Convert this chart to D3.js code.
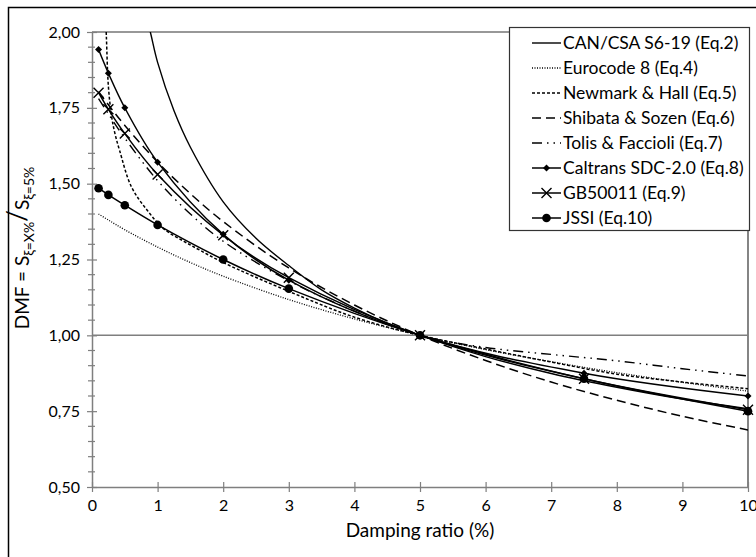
<!DOCTYPE html>
<html>
<head>
<meta charset="utf-8">
<script src="https://cdn.jsdelivr.net/npm/d3@7"></script>
<style>
  body { margin: 0; background: #fff; }
  svg { font-family: Lato, "Open Sans", sans-serif; }
</style>
</head>
<body>
<div id="chart"></div>
<script>
// tick values / labels
const xTicks = [0, 1, 2, 3, 4, 5, 6, 7, 8, 9, 10];
const yTicks = [0.5, 0.75, 1.0, 1.25, 1.5, 1.75, 2.0];
const yTickLabels = ["0,50", "0,75", "1,00", "1,25", "1,50", "1,75", "2,00"];

// CAN/CSA S6-19 (Eq.2)
const canXi = [0.8, 0.9, 1, 1.25, 1.5, 2, 2.5, 3, 3.5, 4, 4.5, 5, 6, 7, 8, 9, 10];
const canDmf = [2.08, 1.99, 1.90, 1.74, 1.62, 1.44, 1.32, 1.23, 1.15, 1.09, 1.04, 1.00, 0.93, 0.874, 0.829, 0.79, 0.758];

// Eurocode 8 (Eq.4)
const ec8Xi = [0.1, 0.25, 0.5, 1, 1.5, 2, 3, 4, 5, 6, 7, 8, 9, 10];
const ec8Dmf = [1.40, 1.38, 1.348, 1.291, 1.24, 1.195, 1.118, 1.054, 1.0, 0.953, 0.913, 0.877, 0.845, 0.816];

// Newmark & Hall (Eq.5)
const nhXi = [0.2, 0.22, 0.25, 0.3, 0.35, 0.42, 0.6, 0.85, 1.1, 1.4, 1.65, 2, 3, 4, 5, 6, 7, 8, 9, 10];
const nhDmf = [2.10, 1.98, 1.82, 1.72, 1.665, 1.61, 1.49, 1.41, 1.35, 1.31, 1.28, 1.24, 1.145, 1.06, 1.0, 0.955, 0.912, 0.872, 0.846, 0.824];

// Shibata & Sozen (Eq.6)
const ssXi = [0.1, 0.25, 0.5, 1, 1.5, 2, 3, 4, 5, 6, 7, 8, 9, 10];
const ssDmf = [1.803, 1.76, 1.692, 1.571, 1.467, 1.375, 1.222, 1.10, 1.0, 0.917, 0.846, 0.786, 0.733, 0.688];

// Tolis & Faccioli (Eq.7)
const tfXi = [0.1, 0.25, 0.5, 1, 1.5, 2, 3, 4, 5, 6, 7, 8, 9, 10];
const tfDmf = [1.78, 1.73, 1.65, 1.51, 1.40, 1.31, 1.18, 1.08, 1.0, 0.96, 0.937, 0.916, 0.89, 0.866];

// marker series share the same damping ratios
const markXi = [0.1, 0.25, 0.5, 1, 2, 3, 5, 7.5, 10];
const caltransDmf = [1.942, 1.864, 1.75, 1.571, 1.333, 1.182, 1.0, 0.875, 0.80];
const gbDmf = [1.80, 1.745, 1.665, 1.53, 1.33, 1.19, 1.0, 0.857, 0.755];
const jssiDmf = [1.485, 1.463, 1.429, 1.364, 1.25, 1.154, 1.0, 0.857, 0.75];

const series = [
    { name: "CAN/CSA S6-19 (Eq.2)", xs: canXi, ys: canDmf, dash: null, width: 1.4 },
    { name: "Eurocode 8 (Eq.4)", xs: ec8Xi, ys: ec8Dmf, dash: "1,1.5", width: 1.3 },
    { name: "Newmark & Hall (Eq.5)", xs: nhXi, ys: nhDmf, dash: "3,2", width: 1.5 },
    { name: "Shibata & Sozen (Eq.6)", xs: ssXi, ys: ssDmf, dash: "9,5", width: 1.5 },
    { name: "Tolis & Faccioli (Eq.7)", xs: tfXi, ys: tfDmf, dash: "10,5,1.5,5,1.5,5", width: 1.4 },
    { name: "Caltrans SDC-2.0 (Eq.8)", xs: markXi, ys: caltransDmf, dash: null, width: 1.5, marker: "diamond" },
    { name: "GB50011 (Eq.9)", xs: markXi, ys: gbDmf, dash: null, width: 1.5, marker: "cross" },
    { name: "JSSI (Eq.10)", xs: markXi, ys: jssiDmf, dash: null, width: 1.5, marker: "circle" }
];

const W = 756, H = 557;
const plotLeft = 92, plotRight = 748, plotTop = 32, plotBottom = 487;

const svg = d3.select("#chart").append("svg")
    .attr("width", W)
    .attr("height", H);

// outer frame
svg.append("rect")
    .attr("x", 8.5).attr("y", 7.5)
    .attr("width", 780).attr("height", 580)
    .attr("fill", "none")
    .attr("stroke", "#000")
    .attr("stroke-width", 1.5);

const x = d3.scaleLinear().domain([0, 10]).range([plotLeft, plotRight]);
const y = d3.scaleLinear().domain([0.5, 2.0]).range([plotBottom, plotTop]);

svg.append("defs").append("clipPath")
    .attr("id", "plotclip")
    .append("rect")
    .attr("x", plotLeft).attr("y", plotTop)
    .attr("width", plotRight - plotLeft).attr("height", plotBottom - plotTop);

// plot border top / right
svg.append("line")
    .attr("x1", plotLeft).attr("x2", plotRight).attr("y1", plotTop).attr("y2", plotTop)
    .attr("stroke", "#333").attr("stroke-width", 1.2);
svg.append("line")
    .attr("x1", plotRight).attr("x2", plotRight).attr("y1", plotTop).attr("y2", plotBottom)
    .attr("stroke", "#333").attr("stroke-width", 1.2);

// reference line at 1,00
svg.append("line")
    .attr("x1", plotLeft).attr("x2", plotRight).attr("y1", y(1)).attr("y2", y(1))
    .attr("stroke", "#7f7f7f").attr("stroke-width", 1.5);

// x axis
const xAxis = svg.append("g")
    .attr("transform", `translate(0,${plotBottom})`)
    .call(d3.axisBottom(x).tickValues(xTicks).tickSize(0).tickPadding(13).tickFormat(d3.format("d")));
xAxis.select(".domain").attr("stroke", "#7f7f7f").attr("stroke-width", 1.5);
xAxis.selectAll(".tick line").remove();
xAxis.selectAll(".tick").append("line")
    .attr("y1", -5).attr("y2", 5)
    .attr("stroke", "#7f7f7f").attr("stroke-width", 1.2);
xAxis.selectAll("text")
    .attr("fill", "#000")
    .style("font-size", "16px")
    .style("font-family", "Lato");

// y axis
const yAxis = svg.append("g")
    .attr("transform", `translate(${plotLeft},0)`)
    .call(d3.axisLeft(y).tickValues(yTicks).tickSize(0).tickPadding(12).tickFormat((d, i) => yTickLabels[i]));
yAxis.select(".domain").attr("stroke", "#7f7f7f").attr("stroke-width", 1.5);
yAxis.selectAll(".tick").append("line")
    .attr("x1", -5).attr("x2", 5)
    .attr("stroke", "#7f7f7f").attr("stroke-width", 1.2);
yAxis.selectAll("text")
    .attr("fill", "#000")
    .style("font-size", "16px")
    .style("font-family", "Lato");

const minorTicks = d3.range(0.55, 2.0, 0.05).filter(v => Math.abs(v * 4 - Math.round(v * 4)) > 0.01);
yAxis.selectAll(".minor")
    .data(minorTicks)
    .enter()
    .append("line")
    .attr("class", "minor")
    .attr("x1", -4).attr("x2", 3)
    .attr("y1", d => y(d)).attr("y2", d => y(d))
    .attr("stroke", "#7f7f7f").attr("stroke-width", 1.2);

// axis titles
svg.append("text")
    .attr("x", (plotLeft + plotRight) / 2)
    .attr("y", 537)
    .attr("text-anchor", "middle")
    .style("font-size", "19px")
    .text("Damping ratio (%)");

const yLabel = svg.append("text")
    .attr("transform", "translate(29,248) rotate(-90)")
    .attr("text-anchor", "middle")
    .style("font-size", "19px");
yLabel.append("tspan").text("DMF = S");
yLabel.append("tspan").attr("dy", 5).style("font-size", "14px").text("ξ=X%");
yLabel.append("tspan").attr("dy", -8).style("font-size", "26px").text("/");
yLabel.append("tspan").attr("dy", 3).text("S");
yLabel.append("tspan").attr("dy", 5).style("font-size", "14px").text("ξ=5%");

// curves
const line = d3.line()
    .x(d => x(d[0]))
    .y(d => y(d[1]))
    .curve(d3.curveCatmullRom.alpha(0.5));

const plot = svg.append("g").attr("clip-path", "url(#plotclip)");

series.forEach(s => {
    const pts = s.xs.map((v, i) => [v, s.ys[i]]);
    plot.append("path")
        .datum(pts)
        .attr("d", line)
        .attr("fill", "none")
        .attr("stroke", "#000")
        .attr("stroke-width", s.width)
        .attr("stroke-dasharray", s.dash);
});

function drawMarker(g, type, cx, cy) {
    if (type === "diamond") {
        g.append("path")
            .attr("d", `M${cx},${cy - 3.5}L${cx + 3.5},${cy}L${cx},${cy + 3.5}L${cx - 3.5},${cy}Z`)
            .attr("fill", "#000");
    } else if (type === "cross") {
        g.append("path")
            .attr("d", `M${cx - 5},${cy - 5}L${cx + 5},${cy + 5}M${cx - 5},${cy + 5}L${cx + 5},${cy - 5}`)
            .attr("stroke", "#000")
            .attr("stroke-width", 1.4);
    } else if (type === "circle") {
        g.append("circle")
            .attr("cx", cx).attr("cy", cy).attr("r", 4.3)
            .attr("fill", "#000");
    }
}

const markers = svg.append("g");
series.filter(s => s.marker).forEach(s => {
    s.xs.forEach((v, i) => drawMarker(markers, s.marker, x(v), y(s.ys[i])));
});

// legend
const legend = svg.append("g");
legend.append("rect")
    .attr("x", 509.5).attr("y", 27.5)
    .attr("width", 240).attr("height", 203)
    .attr("fill", "#fff")
    .attr("stroke", "#333")
    .attr("stroke-width", 1.2);

const legendItems = legend.selectAll(".legend-item")
    .data(series)
    .enter()
    .append("g")
    .attr("class", "legend-item")
    .attr("transform", (d, i) => `translate(0, ${43 + i * 25})`);

legendItems.append("line")
    .attr("x1", 532).attr("x2", 561)
    .attr("y1", 0).attr("y2", 0)
    .attr("stroke", "#000")
    .attr("stroke-width", d => d.width)
    .attr("stroke-dasharray", d => d.dash);

legendItems.each(function (d) {
    if (d.marker) drawMarker(d3.select(this), d.marker, 546.5, 0);
});

legendItems.append("text")
    .attr("x", 563)
    .attr("y", 0)
    .attr("dy", "0.35em")
    .style("font-size", "17.5px")
    .text(d => d.name);
</script>
</body>
</html>
